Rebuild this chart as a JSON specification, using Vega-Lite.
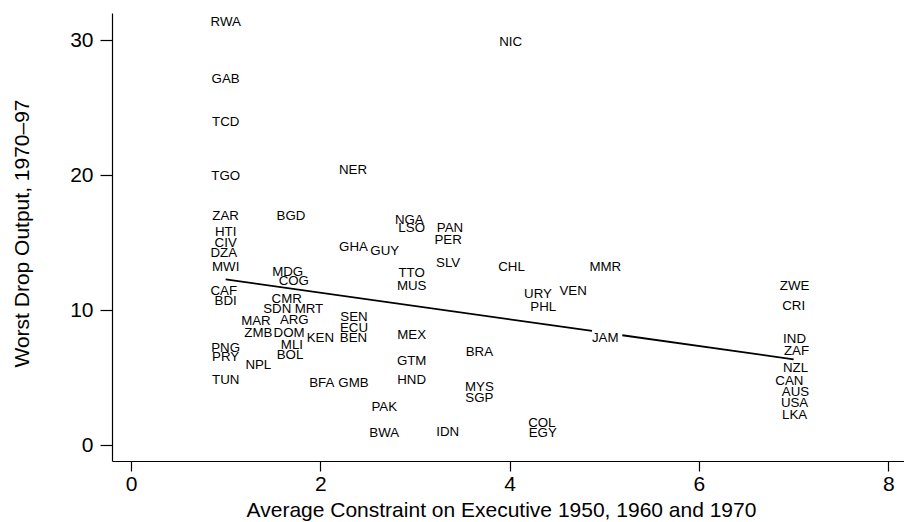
{
  "$schema": "https://vega.github.io/schema/vega-lite/v6.json",
  "width": 792,
  "height": 448,
  "autosize": {"type": "none"},
  "padding": {"left": 112, "top": 13, "right": 0, "bottom": 61},
  "background": "white",
  "config": {"view": {"stroke": null}, "font": "Liberation Sans"},
  "datasets": {
    "countries": [
      {"code": "RWA", "x": 1.0, "y": 31.3},
      {"code": "GAB", "x": 1.0, "y": 27.1},
      {"code": "TCD", "x": 1.0, "y": 23.9},
      {"code": "TGO", "x": 1.0, "y": 19.9},
      {"code": "NER", "x": 2.345, "y": 20.4},
      {"code": "NIC", "x": 4.01, "y": 29.85},
      {"code": "ZAR", "x": 1.0, "y": 17.0},
      {"code": "BGD", "x": 1.69, "y": 17.0},
      {"code": "HTI", "x": 1.0, "y": 15.8},
      {"code": "CIV", "x": 1.0, "y": 15.0},
      {"code": "DZA", "x": 0.98, "y": 14.2},
      {"code": "MWI", "x": 1.0, "y": 13.2},
      {"code": "MDG", "x": 1.655, "y": 12.8},
      {"code": "COG", "x": 1.72, "y": 12.15},
      {"code": "CAF", "x": 0.98, "y": 11.4},
      {"code": "BDI", "x": 1.0, "y": 10.7},
      {"code": "CMR", "x": 1.645, "y": 10.8},
      {"code": "SDN", "x": 1.545, "y": 10.1},
      {"code": "MRT", "x": 1.88, "y": 10.1},
      {"code": "MAR", "x": 1.32, "y": 9.2},
      {"code": "ARG", "x": 1.725, "y": 9.26},
      {"code": "ZMB", "x": 1.345, "y": 8.27},
      {"code": "DOM", "x": 1.67, "y": 8.27},
      {"code": "MLI", "x": 1.7, "y": 7.4},
      {"code": "KEN", "x": 2.0, "y": 7.9},
      {"code": "BOL", "x": 1.68, "y": 6.67},
      {"code": "SEN", "x": 2.356, "y": 9.5},
      {"code": "ECU", "x": 2.356, "y": 8.7},
      {"code": "BEN", "x": 2.35, "y": 7.9},
      {"code": "PNG", "x": 1.0, "y": 7.16},
      {"code": "PRY", "x": 1.0, "y": 6.54},
      {"code": "NPL", "x": 1.345, "y": 5.93},
      {"code": "TUN", "x": 1.0, "y": 4.81},
      {"code": "BFA", "x": 2.015, "y": 4.6},
      {"code": "GMB", "x": 2.35, "y": 4.6},
      {"code": "GHA", "x": 2.35, "y": 14.7},
      {"code": "GUY", "x": 2.68, "y": 14.4},
      {"code": "NGA", "x": 2.94, "y": 16.7},
      {"code": "LSO", "x": 2.965, "y": 16.1},
      {"code": "TTO", "x": 2.965, "y": 12.76},
      {"code": "MUS", "x": 2.965, "y": 11.8},
      {"code": "MEX", "x": 2.965, "y": 8.15},
      {"code": "GTM", "x": 2.965, "y": 6.25},
      {"code": "HND", "x": 2.965, "y": 4.8},
      {"code": "PAN", "x": 3.37, "y": 16.05},
      {"code": "PER", "x": 3.35, "y": 15.2},
      {"code": "SLV", "x": 3.35, "y": 13.5},
      {"code": "CHL", "x": 4.02, "y": 13.16},
      {"code": "MMR", "x": 5.01, "y": 13.16},
      {"code": "URY", "x": 4.3, "y": 11.16},
      {"code": "VEN", "x": 4.67, "y": 11.4},
      {"code": "PHL", "x": 4.355, "y": 10.25},
      {"code": "JAM", "x": 5.01, "y": 7.9},
      {"code": "BRA", "x": 3.68, "y": 6.87},
      {"code": "MYS", "x": 3.68, "y": 4.27},
      {"code": "SGP", "x": 3.68, "y": 3.46},
      {"code": "PAK", "x": 2.675, "y": 2.84},
      {"code": "BWA", "x": 2.675, "y": 0.87},
      {"code": "IDN", "x": 3.345, "y": 0.99},
      {"code": "COL", "x": 4.34, "y": 1.6},
      {"code": "EGY", "x": 4.35, "y": 0.87},
      {"code": "ZWE", "x": 7.01, "y": 11.8},
      {"code": "CRI", "x": 7.0, "y": 10.3},
      {"code": "IND", "x": 7.01, "y": 7.83},
      {"code": "ZAF", "x": 7.03, "y": 6.96},
      {"code": "NZL", "x": 7.02, "y": 5.73},
      {"code": "CAN", "x": 6.955, "y": 4.74},
      {"code": "AUS", "x": 7.02, "y": 3.95},
      {"code": "USA", "x": 7.01, "y": 3.09},
      {"code": "LKA", "x": 7.01, "y": 2.22}
    ],
    "fit": [
      {"piece": "a", "x": 1.0, "y": 12.27},
      {"piece": "a", "x": 4.87, "y": 8.45},
      {"piece": "b", "x": 5.19, "y": 8.13},
      {"piece": "b", "x": 7.0, "y": 6.35}
    ]
  },
  "layer": [
    {
      "data": {"name": "fit"},
      "mark": {"type": "line", "color": "black", "strokeWidth": 1.8},
      "encoding": {
        "x": {
          "field": "x", "type": "quantitative",
          "scale": {"domain": [-0.2007, 8.166], "nice": false, "zero": false},
          "axis": {
            "values": [0, 2, 4, 6, 8], "grid": false, "format": "d",
            "title": "Average Constraint on Executive 1950, 1960 and 1970",
            "titleFontSize": 21, "titleFontWeight": "normal", "titleColor": "black",
            "titleX": 389, "titleY": 55, "titleBaseline": "alphabetic", "titleAlign": "center",
            "labelFontSize": 21, "labelColor": "black", "labelPadding": 2,
            "tickSize": 10, "tickColor": "black", "tickWidth": 1.2,
            "domainColor": "black", "domainWidth": 1.2
          }
        },
        "y": {
          "field": "y", "type": "quantitative",
          "scale": {"domain": [-1.185, 32.0], "nice": false, "zero": false},
          "axis": {
            "values": [0, 10, 20, 30], "grid": false, "format": "d",
            "title": "Worst Drop Output, 1970–97",
            "titleFontSize": 21, "titleFontWeight": "normal", "titleColor": "black",
            "titleX": -84, "titleY": 220, "titleBaseline": "alphabetic", "titleAlign": "center", "titleAngle": -90,
            "labelFontSize": 21, "labelColor": "black", "labelPadding": 7,
            "tickSize": 12, "tickColor": "black", "tickWidth": 1.2,
            "domainColor": "black", "domainWidth": 1.2
          }
        },
        "detail": {"field": "piece"}
      }
    },
    {
      "data": {"name": "countries"},
      "mark": {"type": "text", "fontSize": 13.3, "color": "black", "align": "center", "baseline": "middle"},
      "encoding": {
        "x": {"field": "x", "type": "quantitative"},
        "y": {"field": "y", "type": "quantitative"},
        "text": {"field": "code"}
      }
    }
  ]
}
